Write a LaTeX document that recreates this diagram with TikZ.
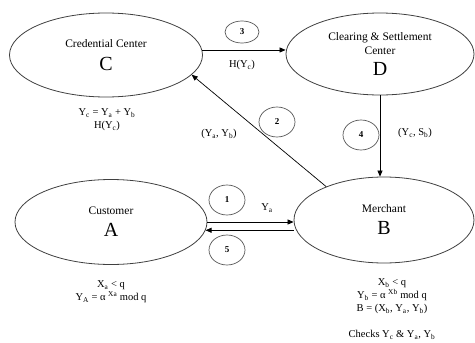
\documentclass[tikz,border=0pt]{standalone}
\usepackage{fontspec}
\setmainfont{Liberation Serif}
\usetikzlibrary{arrows.meta,shapes.geometric,positioning}

\newcommand{\bigltr}[1]{{\fontsize{20}{22}\selectfont #1}}
\newcommand{\sbs}[1]{\textsubscript{#1}}

\begin{document}
\begin{tikzpicture}[x=1pt, y=-1pt,
    party/.style={draw=black!75, ellipse, line width=0.8pt, align=center, inner sep=0pt, font=\fontsize{11.5}{14}\selectfont},
    num/.style={draw=black!65, ellipse, line width=0.7pt, inner sep=0pt, minimum width=36pt, minimum height=30pt, font=\bfseries\fontsize{9}{10}\selectfont},
    lbl/.style={align=center, inner sep=1pt, font=\fontsize{10.5}{13}\selectfont},
    arr/.style={-{Triangle[length=6pt,width=5pt]}, line width=0.7pt}
]
\useasboundingbox[fill=white] (0,0) rectangle (475,343);

\node[party, minimum width=193pt, minimum height=84pt] (C) at (106,55) {Credential Center\\[9pt]\bigltr{C}};
\node[party, minimum width=188pt, minimum height=82pt] (D) at (380,54) {Clearing \& Settlement\\Center\\[7pt]\bigltr{D}};
\node[party, minimum width=192pt, minimum height=85pt] (A) at (111,222) {Customer\\[8pt]\bigltr{A}};
\node[party, minimum width=180pt, minimum height=86pt] (B) at (384,220) {Merchant\\[8pt]\bigltr{B}};

\node[num, minimum width=34pt, minimum height=22pt] (n3) at (242,32) {3};
\node[num] (n2) at (277,122) {2};
\node[num] (n4) at (361,135) {4};
\node[num] (n1) at (227,200) {1};
\node[num] (n5) at (227,250) {5};

\node[lbl] (hyc) at (242,65) {H(Y\sbs{c})};
\node[lbl] (yayb) at (219,134) {(Y\sbs{a}, Y\sbs{b})};
\node[lbl] (ycsb) at (415,133) {(Y\sbs{c}, S\sbs{b})};
\node[lbl] (ya) at (267,208) {Y\sbs{a}};
\node[lbl] (cform) at (107,120) {Y\sbs{c} = Y\sbs{a} + Y\sbs{b}\\H(Y\sbs{c})};
\node[lbl] (aform) at (111,292) {X\sbs{a} < q\\Y\sbs{A} = α \textsuperscript{Xa} mod q};
\node[lbl] (bform) at (392,309) {X\sbs{b} < q\\Y\sbs{b} = α \textsuperscript{Xb} mod q\\B = (X\sbs{b}, Y\sbs{a}, Y\sbs{b})\\[13pt]Checks Y\sbs{c} \& Y\sbs{a}, Y\sbs{b}};

\draw[arr] (C.3) -- (C.3 -| D.west);
\draw[arr] (B.150) -- (C.-13);
\draw[arr] (D.south) -- (D.south |- B.north);
\draw[arr] (A.east) -- (A.east -| B.west);
\draw[arr] (A.-5 -| B.west) -- (A.-5);
\end{tikzpicture}
\end{document}
